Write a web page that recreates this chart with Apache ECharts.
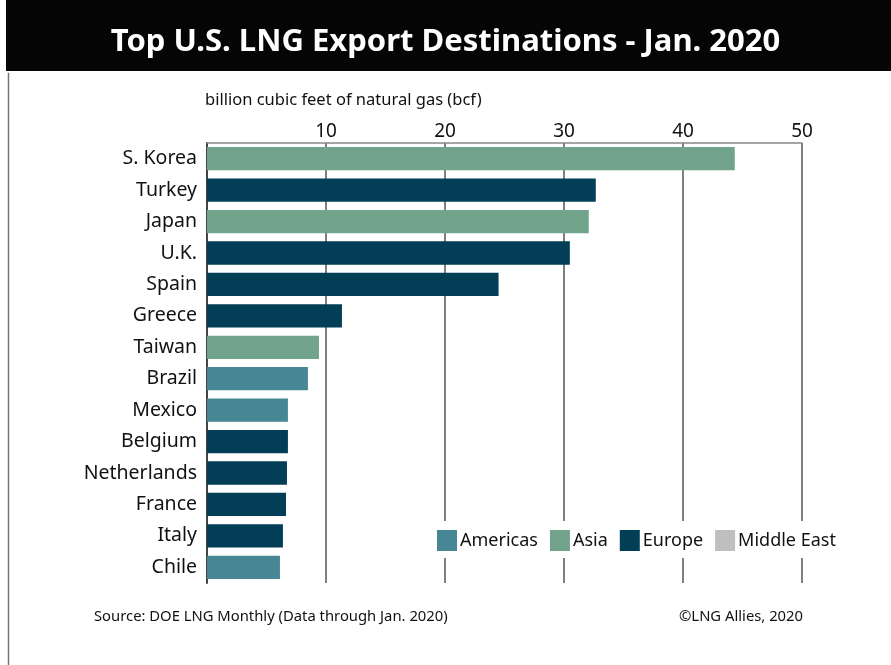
<!DOCTYPE html>
<html>
<head>
<meta charset="utf-8">
<script src="https://cdn.jsdelivr.net/npm/echarts@6/dist/echarts.min.js"></script>
<style>
html,body{margin:0;padding:0;background:#fff;}
#chart{width:891px;height:665px;}
</style>
</head>
<body>
<div id="chart"></div>
<script>
var categories = ['S. Korea','Turkey','Japan','U.K.','Spain','Greece','Taiwan','Brazil','Mexico','Belgium','Netherlands','France','Italy','Chile'];
var values = [44.35, 32.67, 32.08, 30.49, 24.5, 11.34, 9.41, 8.48, 6.8, 6.8, 6.72, 6.64, 6.38, 6.13];
var regionOf = ['Asia','Europe','Asia','Europe','Europe','Europe','Asia','Americas','Americas','Europe','Europe','Europe','Europe','Americas'];
var regions = ['Americas','Asia','Europe','Middle East'];
var regionColors = ['#468695','#72A38B','#023E55','#BFBFBF'];
var xTicks = [0,10,20,30,40,50];

var FONT = '"Noto Sans", "Open Sans", sans-serif';
var chart = echarts.init(document.getElementById('chart'));

var series = regions.map(function(r, i){
  return {
    name: r,
    type: 'bar',
    stack: 'all',
    barCategoryGap: '26%',
    itemStyle: {color: regionColors[i]},
    data: values.map(function(v, k){ return regionOf[k] === r ? v : '-'; })
  };
});

chart.setOption({
  animation: false,
  textStyle: {fontFamily: FONT},
  grid: {left: 207, right: 89, top: 143, height: 440, containLabel: false},
  xAxis: {
    type: 'value', position: 'top',
    min: xTicks[0], max: xTicks[xTicks.length-1], interval: 10,
    axisLine: {show: true, lineStyle: {color: '#888', width: 1.5}},
    axisTick: {show: false},
    axisLabel: {
      color: '#111', fontSize: 19, fontFamily: FONT, margin: 2,
      formatter: function(v){ return v === 0 ? '' : String(v); }
    },
    splitLine: {show: true, lineStyle: {color: '#555', width: 1.5}}
  },
  yAxis: {
    type: 'category', inverse: true, data: categories,
    axisLine: {show: true, lineStyle: {color: '#444', width: 2}},
    axisTick: {show: false},
    axisLabel: {color: '#111', fontSize: 19.5, fontFamily: FONT, margin: 10}
  },
  legend: {
    data: regions,
    left: 428, top: 521,
    orient: 'horizontal',
    itemWidth: 20, itemHeight: 21, itemGap: 12,
    padding: [9, 9, 7, 9],
    backgroundColor: '#fff',
    icon: 'rect',
    textStyle: {fontSize: 18, color: '#111', fontFamily: FONT, padding: [0,0,0,-2]}
  },
  series: series,
  graphic: [
    {type: 'rect', left: 6, top: 0, shape: {width: 885, height: 71}, style: {fill: '#050505'}, z: 0},
    {type: 'rect', left: 6, top: 71, shape: {width: 0.01, height: 594}, style: {fill: 'none', stroke: '#777', lineWidth: 1.5}},
    {type: 'rect', left: 889.5, top: 71, shape: {width: 0.01, height: 594}, style: {fill: 'none', stroke: '#ccc', lineWidth: 1.5}},
    {type: 'text', left: 'center', top: 27, style: {text: 'Top U.S. LNG Export Destinations - Jan. 2020', fill: '#fff', font: 'bold 31px ' + FONT}},
    {type: 'text', left: 205, top: 92, style: {text: 'billion cubic feet of natural gas (bcf)', fill: '#111', font: '16.5px ' + FONT}},
    {type: 'text', left: 94, top: 609, style: {text: 'Source: DOE LNG Monthly (Data through Jan. 2020)', fill: '#111', font: '14.8px ' + FONT}},
    {type: 'text', right: 88, top: 609, style: {text: '\u00A9LNG Allies, 2020', fill: '#111', font: '14.8px ' + FONT}}
  ]
});
</script>
</body>
</html>
